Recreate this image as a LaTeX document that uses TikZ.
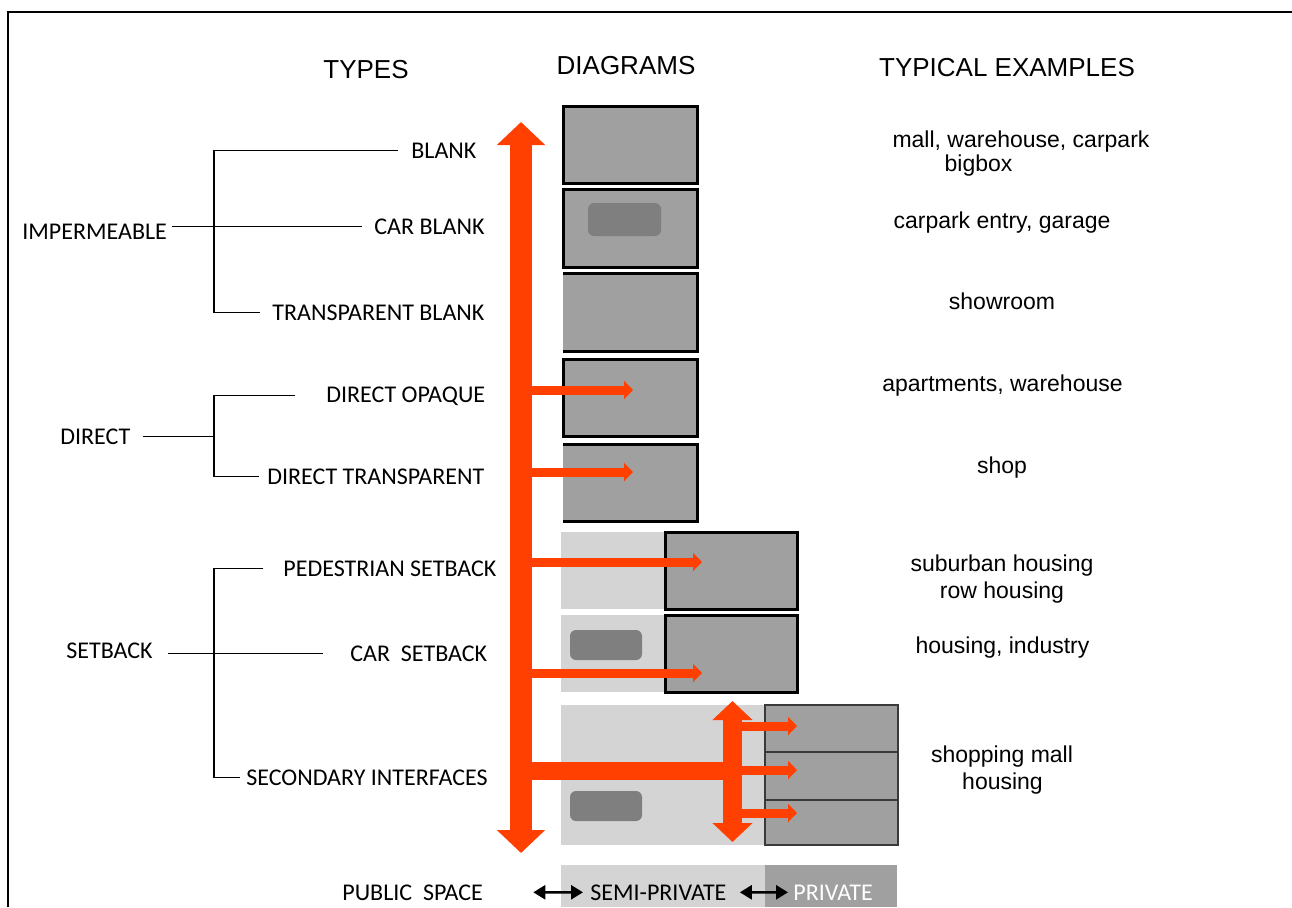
\documentclass[tikz,border=0pt]{standalone}
\usepackage{fontspec}
\setmainfont{Carlito}
\newfontfamily\helv{Liberation Sans}
\usepackage{xcolor}
\usepackage{tikz}
\usetikzlibrary{arrows.meta,calc}
\definecolor{IForange}{RGB}{255,64,0}
\definecolor{IFdark}{HTML}{A0A0A0}
\definecolor{IFlight}{HTML}{D4D4D4}
\definecolor{IFcar}{HTML}{7F7F7F}
\definecolor{IFedge}{HTML}{3A3A3A}

\begin{document}
\begin{tikzpicture}[x=0.5pt,y=-0.5pt,
    typelbl/.style={font=\fontsize{12}{14}\selectfont,inner sep=0pt,anchor=base west},
    headlbl/.style={font=\helv\fontsize{13}{15}\selectfont,inner sep=0pt,anchor=base},
    exlbl/.style={font=\helv\fontsize{11.5}{13}\selectfont,inner sep=0pt,anchor=base},
    bldg/.style={fill=IFdark,draw=black,line width=1.5pt},
    yard/.style={fill=IFlight,draw=none},
    car/.style={fill=IFcar,draw=none,rounded corners=3pt},
    tree/.style={line width=0.6pt},
    spine/.style={IForange,line width=11pt,
      {Triangle[width=23.5pt,length=11.5pt]}-{Triangle[width=23.5pt,length=11.5pt]}},
    riser/.style={IForange,line width=9.5pt,
      {Triangle[width=19.5pt,length=9.5pt]}-{Triangle[width=19.5pt,length=9.5pt]}},
    entry/.style={IForange,line width=4.5pt,-{Triangle[width=9pt,length=4.5pt]}},
    swap/.style={line width=1.3pt,{Triangle[width=7pt,length=6pt]}-{Triangle[width=7pt,length=6pt]}}]
        \useasboundingbox (0,0) rectangle (1292,907);
        % frame
        \draw[line width=1pt] (8,907) -- (8,12) -- (1292,12);
        % headings
        \node[headlbl] (hTypes) at (366,78) {TYPES};
        \node[headlbl] (hDiag) at (626,74) {DIAGRAMS};
        \node[headlbl] (hEx) at (1007,76) {TYPICAL EXAMPLES};
        % types
        \node[typelbl] (blank) at (411,158) {BLANK};
        \node[typelbl] (carblank) at (374,234) {CAR BLANK};
        \node[typelbl] (tblank) at (272,320) {TRANSPARENT BLANK};
        \node[typelbl] (dopaque) at (326,402) {DIRECT OPAQUE};
        \node[typelbl] (dtransp) at (267,484) {DIRECT TRANSPARENT};
        \node[typelbl] (pedsb) at (283,576) {PEDESTRIAN SETBACK};
        \node[typelbl] (carsb) at (350,661) {CAR~~SETBACK};
        \node[typelbl] (secint) at (246,785) {SECONDARY INTERFACES};
        \node[typelbl] (imp) at (22,239) {IMPERMEABLE};
        \node[typelbl] (direct) at (60,444) {DIRECT};
        \node[typelbl] (setback) at (66,658) {SETBACK};
        \coordinate (brX) at (214,0);
        % tree lines
        \draw[tree,shorten <=2.5pt,shorten >=6pt] (imp.east |- carblank.west) -- (carblank.west);
        \draw[tree,shorten <=6.5pt,shorten >=6pt] (blank.west) -| (brX |- tblank.west) -- (tblank.west);
        \draw[tree,shorten <=6pt] (direct.east) -- (brX |- direct.east);
        \draw[tree,shorten <=15.5pt,shorten >=4pt] (dopaque.west) -| (brX |- dtransp.west) -- (dtransp.west);
        \draw[tree,shorten <=7.5pt,shorten >=13.5pt] (setback.east |- carsb.west) -- (carsb.west);
        \draw[tree,shorten <=10pt,shorten >=3pt] (pedsb.west) -| (brX |- secint.west) -- (secint.west);
        % diagrams
        \draw[bldg] (563,106) rectangle (697,183);
        \draw[bldg] (563,189) rectangle (697,267);
        \fill[car] (588,203) rectangle (661,236);
        \fill[IFdark] (563,273) rectangle (697,351);
        \draw[line width=1.5pt] (563,273) -- (697,273) -- (697,351) -- (563,351);
        \draw[bldg] (563,359) rectangle (697,436);
        \fill[IFdark] (563,444) rectangle (697,521);
        \draw[line width=1.5pt] (563,444) -- (697,444) -- (697,521) -- (563,521);
        \fill[yard] (561,532) rectangle (665,609);
        \draw[bldg] (665,532) rectangle (797,609);
        \fill[yard] (561,615) rectangle (665,692);
        \fill[car] (570,630) rectangle (642,660);
        \draw[bldg] (665,615) rectangle (797,692);
        \fill[yard] (561,705) rectangle (765,845);
        \fill[car] (570,791) rectangle (642,821);
        \foreach \top/\bot in {705/752,752/800,800/845}
          \draw[bldg,draw=IFedge,line width=1.2pt] (765,\top) rectangle (898,\bot);
        % access arrows
        \coordinate (spTop) at (521,122);
        \coordinate (spBot) at (521,853);
        \coordinate (rsTop) at (732.5,701);
        \coordinate (rsBot) at (732.5,842);
        \draw[spine] (spBot) -- (spTop);
        \draw[IForange,line width=9pt] (spTop |- 0,771) -- (rsTop |- 0,771);
        \draw[riser] (rsBot) -- (rsTop);
        \foreach \yy/\xx in {390/633,472/633,562/702,673/702}
          \draw[entry] (spTop |- 0,\yy) -- (\xx,\yy);
        \foreach \yy in {726,770,813}
          \draw[entry] (rsTop |- 0,\yy) -- (797,\yy);
        % bottom scale
        \fill[IFlight] (561,865) rectangle (765,907);
        \fill[IFdark] (765,865) rectangle (897,907);
        \node[typelbl] (pub) at (342,900) {PUBLIC~~SPACE};
        \node[typelbl] (semi) at (590,900) {SEMI-PRIVATE};
        \node[typelbl,text=white] (priv) at (793,900) {PRIVATE};
        \draw[swap,shorten <=25pt,shorten >=3.5pt] (pub.east) -- (semi.west);
        \draw[swap,shorten <=6.5pt,shorten >=2.5pt] (semi.east) -- (priv.west);
        % typical examples
        \node[exlbl] (exMall) at (1021,147) {mall, warehouse, carpark};
        \node[exlbl] (exBig) at (978.5,171) {bigbox};
        \node[exlbl] (exGar) at (1002,228) {carpark entry, garage};
        \node[exlbl] (exShow) at (1002,309) {showroom};
        \node[exlbl] (exApt) at (1002.5,391) {apartments, warehouse};
        \node[exlbl] (exShop) at (1002,473) {shop};
        \node[exlbl] (exSub) at (1002,571) {suburban housing};
        \node[exlbl] (exRow) at (1002,598) {row housing};
        \node[exlbl] (exInd) at (1002.5,653) {housing, industry};
        \node[exlbl] (exMallB) at (1002,762) {shopping mall};
        \node[exlbl] (exHouse) at (1002.5,789) {housing};
      \end{tikzpicture}
\end{document}
